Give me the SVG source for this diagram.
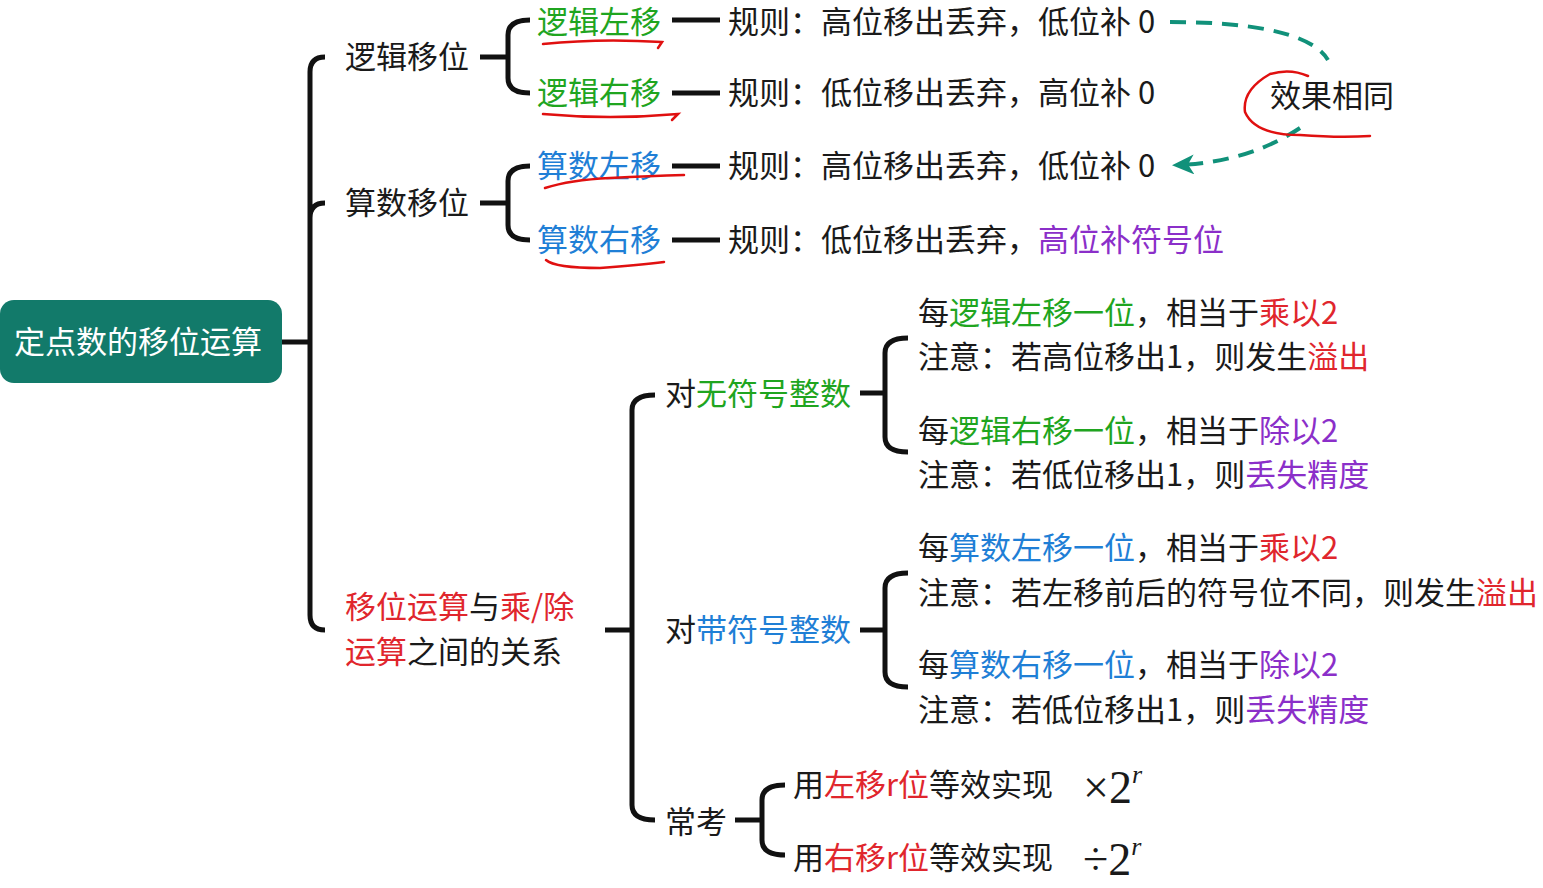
<svg xmlns="http://www.w3.org/2000/svg" width="1543" height="888" viewBox="0 0 1543 888">
<style>
text{font-family:"Noto Sans CJK SC","Noto Sans",sans-serif;font-size:31px;fill:#1a1a1a}
.g{fill:#1fa51f}.b{fill:#1f7fd6}.r{fill:#e0262d}.p{fill:#8b2fc9}
.ln{fill:none;stroke:#111;stroke-width:5;stroke-linecap:butt}
.ink{fill:none;stroke:#e01010;stroke-width:2.5;stroke-linecap:round}
.dash{fill:none;stroke:#11917a;stroke-width:4;stroke-dasharray:16 10}
.m{font-family:"Liberation Serif",serif;font-size:46px}
</style>
<defs>
<marker id="ah2" markerWidth="22" markerHeight="20" refX="16" refY="10" orient="auto" markerUnits="userSpaceOnUse"><path d="M22,10 L0,0 L6,10 L0,20 Z" fill="#11917a"/></marker></defs>
<g id="connectors">
<path class="ln" d="M282,342 H310 M325,57 Q310,57 310,72 V615 Q310,630 325,630 M325,203 Q310,203 310,218"/>
<path class="ln" d="M480,57 H508 M530,20 Q508,20 508,35 V78 Q508,93 530,93"/>
<path class="ln" d="M480,203 H508 M530,166 Q508,166 508,181 V225 Q508,240 530,240"/>
<path class="ln" d="M672,20 H720 M672,93 H720 M672,166 H720 M672,240 H720"/>
<path class="ln" d="M605,630 H632 M655,395 Q632,395 632,410 V805 Q632,820 655,820"/>
<path class="ln" d="M860,393 H885 M908,338 Q885,338 885,353 V437 Q885,452 908,452"/>
<path class="ln" d="M860,630 H885 M908,573 Q885,573 885,588 V672 Q885,687 908,687"/>
<path class="ln" d="M735,820 H762 M785,785 Q762,785 762,800 V840 Q762,855 785,855"/>
<path class="dash" d="M1170,22 C1240,22 1310,30 1328,60"/>
<path class="dash" d="M1300,128 C1270,148 1230,163 1178,165" marker-end="url(#ah2)"/>
</g>
<g id="root"><rect x="0" y="300" width="282" height="83" rx="14" fill="#127a6a"/><text x="14" y="353" style="fill:#fff">定点数的移位运算</text></g>
<g id="n1"><text x="345" y="68">逻辑移位</text></g>
<g id="n2"><text x="345" y="214">算数移位</text></g>
<g id="n3"><text x="345" y="618"><tspan class="r">移位运算</tspan>与<tspan class="r">乘/除</tspan></text><text x="345" y="663"><tspan class="r">运算</tspan>之间的关系</text></g>
<g id="n11"><text x="537" y="33" class="g">逻辑左移</text><text x="728" y="33">规则：高位移出丢弃，低位补 0</text></g>
<g id="n12"><text x="537" y="104" class="g">逻辑右移</text><text x="728" y="104">规则：低位移出丢弃，高位补 0</text></g>
<g id="n21"><text x="537" y="177" class="b">算数左移</text><text x="728" y="177">规则：高位移出丢弃，低位补 0</text></g>
<g id="n22"><text x="537" y="251" class="b">算数右移</text><text x="728" y="251">规则：低位移出丢弃，<tspan class="p">高位补符号位</tspan></text></g>
<g id="same"><text x="1270" y="107">效果相同</text></g>
<g id="u"><text x="665" y="405">对<tspan class="g">无符号整数</tspan></text>
<text x="918" y="324">每<tspan class="g">逻辑左移一位</tspan>，相当于<tspan class="r">乘以2</tspan></text>
<text x="918" y="368">注意：若高位移出1，则发生<tspan class="r">溢出</tspan></text>
<text x="918" y="442">每<tspan class="g">逻辑右移一位</tspan>，相当于<tspan class="p">除以2</tspan></text>
<text x="918" y="486">注意：若低位移出1，则<tspan class="p">丢失精度</tspan></text></g>
<g id="s"><text x="665" y="641">对<tspan class="b">带符号整数</tspan></text>
<text x="918" y="559">每<tspan class="b">算数左移一位</tspan>，相当于<tspan class="r">乘以2</tspan></text>
<text x="918" y="604">注意：若左移前后的符号位不同，则发生<tspan class="r">溢出</tspan></text>
<text x="918" y="676">每<tspan class="b">算数右移一位</tspan>，相当于<tspan class="p">除以2</tspan></text>
<text x="918" y="721">注意：若低位移出1，则<tspan class="p">丢失精度</tspan></text></g>
<g id="c"><text x="665" y="833">常考</text>
<text x="793" y="796">用<tspan class="r">左移r位</tspan>等效实现</text>
<text x="793" y="869">用<tspan class="r">右移r位</tspan>等效实现</text>
<text x="1083" y="803" class="m">×2<tspan dy="-20" font-size="26" font-style="italic">r</tspan></text>
<text x="1083" y="875" class="m">÷2<tspan dy="-20" font-size="26" font-style="italic">r</tspan></text></g>
<g id="annotations">
<path class="ink" d="M543,44 Q600,38 662,42 L658,48"/>
<path class="ink" d="M543,114 Q610,120 678,114 L672,120"/>
<path class="ink" d="M545,188 Q570,180 610,178 Q650,176 684,175"/>
<path class="ink" d="M546,260 Q555,268 600,268 Q640,265 664,262"/>
<path class="ink" d="M1308,76 Q1290,68 1270,74 Q1242,90 1245,112 Q1255,135 1300,135 Q1340,138 1370,136"/>
</g>
</svg>
